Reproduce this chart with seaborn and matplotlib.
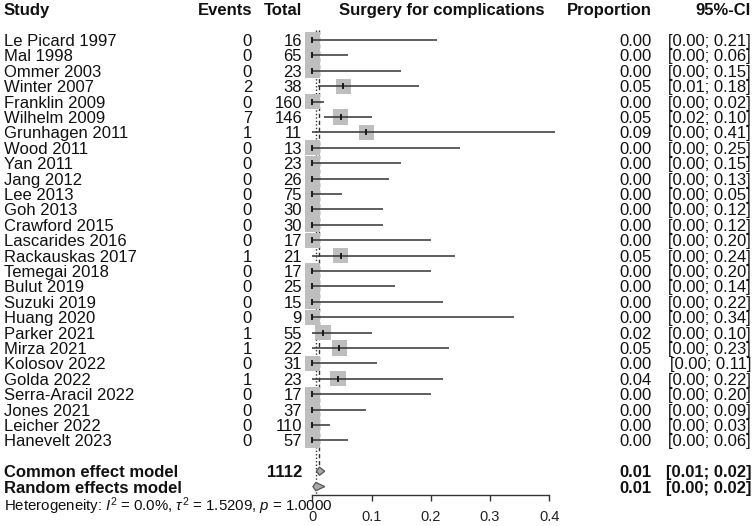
import numpy as np
import pandas as pd
import seaborn as sns
import matplotlib.pyplot as plt
from matplotlib.transforms import blended_transform_factory

# ──────────────────────────────────────────────
# Data
# ──────────────────────────────────────────────

studies = [
    "Le Picard 1997", "Mal 1998", "Ommer 2003", "Winter 2007", "Franklin 2009",
    "Wilhelm 2009", "Grunhagen 2011", "Wood 2011", "Yan 2011", "Jang 2012",
    "Lee 2013", "Goh 2013", "Crawford 2015", "Lascarides 2016", "Rackauskas 2017",
    "Temegai 2018", "Bulut 2019", "Suzuki 2019", "Huang 2020", "Parker 2021",
    "Mirza 2021", "Kolosov 2022", "Golda 2022", "Serra-Aracil 2022", "Jones 2021",
    "Leicher 2022", "Hanevelt 2023",
]
events = [0, 0, 0, 2, 0, 7, 1, 0, 0, 0, 0, 0, 0, 0, 1, 0, 0, 0, 0, 1, 1, 0, 1, 0, 0, 0, 0]
totals = [16, 65, 23, 38, 160, 146, 11, 13, 23, 26, 75, 30, 30, 17, 21, 17, 25, 15, 9,
          55, 22, 31, 23, 17, 37, 110, 57]
ci_low = [0.00, 0.00, 0.00, 0.01, 0.00, 0.02, 0.00, 0.00, 0.00, 0.00, 0.00, 0.00, 0.00,
          0.00, 0.00, 0.00, 0.00, 0.00, 0.00, 0.00, 0.00, 0.00, 0.00, 0.00, 0.00, 0.00, 0.00]
ci_high = [0.21, 0.06, 0.15, 0.18, 0.02, 0.10, 0.41, 0.25, 0.15, 0.13, 0.05, 0.12, 0.12,
           0.20, 0.24, 0.20, 0.14, 0.22, 0.34, 0.10, 0.23, 0.11, 0.22, 0.20, 0.09, 0.03, 0.06]

common_est, common_low, common_high = 0.012, 0.007, 0.021
random_est, random_low, random_high = 0.006, 0.001, 0.021

x_ticks = [0, 0.1, 0.2, 0.3, 0.4]
x_tick_labels = ["0", "0.1", "0.2", "0.3", "0.4"]
heterogeneity = r"Heterogeneity: $\mathbf{\mathit{I}}^2$ = 0.0%, $\tau^2$ = 1.5209, $p$ = 1.0000"

df = pd.DataFrame({
    "study": studies,
    "events": events,
    "total": totals,
    "lower": ci_low,
    "upper": ci_high,
})
df["prop"] = df["events"] / df["total"]
df["row"] = np.arange(len(df)) + 2

common_row = df["row"].max() + 2
random_row = common_row + 1
het_row = random_row + 1

# ──────────────────────────────────────────────
# Figure setup
# ──────────────────────────────────────────────

sns.set_style("white")
plt.rcParams["font.family"] = ["Liberation Sans", "DejaVu Sans"]
plt.rcParams["mathtext.fontset"] = "custom"
plt.rcParams["mathtext.rm"] = "Liberation Sans"
plt.rcParams["mathtext.it"] = "Liberation Sans:italic"
plt.rcParams["mathtext.bf"] = "Liberation Sans:bold"

W, H = 752, 526
fig = plt.figure(figsize=(W / 100, H / 100), dpi=100)

x0_px, px_per_unit = 312.3, 592.5
y0_px, pitch = 9.2, 15.4
ax_left, ax_right, ax_bottom = 290, 570, 495


def row_of(px):
    return (px - y0_px) / pitch


ax = fig.add_axes([ax_left / W, (H - ax_bottom) / H, (ax_right - ax_left) / W, ax_bottom / H])
ax.set_facecolor("none")
ax.set_xlim((ax_left - x0_px) / px_per_unit, (ax_right - x0_px) / px_per_unit)
ax.set_ylim(row_of(ax_bottom), row_of(0))

# ──────────────────────────────────────────────
# Forest marks
# ──────────────────────────────────────────────

ax.plot([random_est, random_est], [row_of(30), row_of(ax_bottom)],
        ls=(0, (1, 1.5)), color="#333333", lw=1, zorder=0)
ax.plot([common_est, common_est], [row_of(30), common_row],
        ls=(0, (3, 2)), color="#333333", lw=1, zorder=0)

sns.scatterplot(data=df, x="prop", y="row", marker="s", s=120, color="#BEBEBE",
                edgecolor="none", ax=ax, zorder=1, legend=False)
ax.hlines(df["row"], df["lower"], df["upper"], color="#333333", lw=1.1, zorder=2)
sns.scatterplot(data=df, x="prop", y="row", marker="|", s=22, color="#111111",
                linewidth=1.3, ax=ax, zorder=3, legend=False)

h = 0.27
for est, lo, hi, r in [(common_est, common_low, common_high, common_row),
                       (random_est, random_low, random_high, random_row)]:
    ax.fill([lo, est, hi, est], [r, r - h, r, r + h], facecolor="#A8A8A8",
            edgecolor="#555555", lw=0.9, zorder=3)

for side in ["top", "right", "left"]:
    ax.spines[side].set_visible(False)
ax.spines["bottom"].set_bounds(0, 0.4)
ax.spines["bottom"].set_color("#333333")
ax.spines["bottom"].set_linewidth(1)
ax.set_xticks(x_ticks)
ax.set_xticklabels(x_tick_labels)
ax.set_yticks([])
ax.set_xlabel("")
ax.set_ylabel("")
ax.tick_params(axis="x", direction="out", length=4.5, width=1, color="#333333",
               labelsize=10.5, labelcolor="#222222", pad=6.5, bottom=True)

# ──────────────────────────────────────────────
# Table text
# ──────────────────────────────────────────────

trans = blended_transform_factory(fig.transFigure, ax.transData)
fs = 12


def put(px, r, s, ha="left", bold=False, size=fs):
    ax.text(px / W, r, s, transform=trans, ha=ha, va="center_baseline",
            fontsize=size, fontweight="bold" if bold else "normal",
            color="#111111", clip_on=False)


put(4, 0, "Study", bold=True)
put(252, 0, "Events", ha="right", bold=True)
put(302, 0, "Total", ha="right", bold=True)
put(442, 0, "Surgery for complications", ha="center", bold=True)
put(652, 0, "Proportion", ha="right", bold=True)
put(751, 0, "95%-CI", ha="right", bold=True)

for _, d in df.iterrows():
    put(4, d["row"], d["study"])
    put(252, d["row"], str(d["events"]), ha="right")
    put(302, d["row"], str(d["total"]), ha="right")
    put(652, d["row"], f"{d['prop']:.2f}", ha="right")
    put(751, d["row"], f"[{d['lower']:.2f}; {d['upper']:.2f}]", ha="right")

put(4, common_row, "Common effect model", bold=True)
put(302, common_row, str(sum(totals)), ha="right", bold=True)
put(652, common_row, f"{common_est:.2f}", ha="right", bold=True)
put(751, common_row, f"[{common_low:.2f}; {common_high:.2f}]", ha="right", bold=True)

put(4, random_row, "Random effects model", bold=True)
put(652, random_row, f"{random_est:.2f}", ha="right", bold=True)
put(751, random_row, f"[{random_low:.2f}; {random_high:.2f}]", ha="right", bold=True)

put(4, het_row + 0.08, heterogeneity, size=10.8)

fig.savefig("out.png", dpi=100)
